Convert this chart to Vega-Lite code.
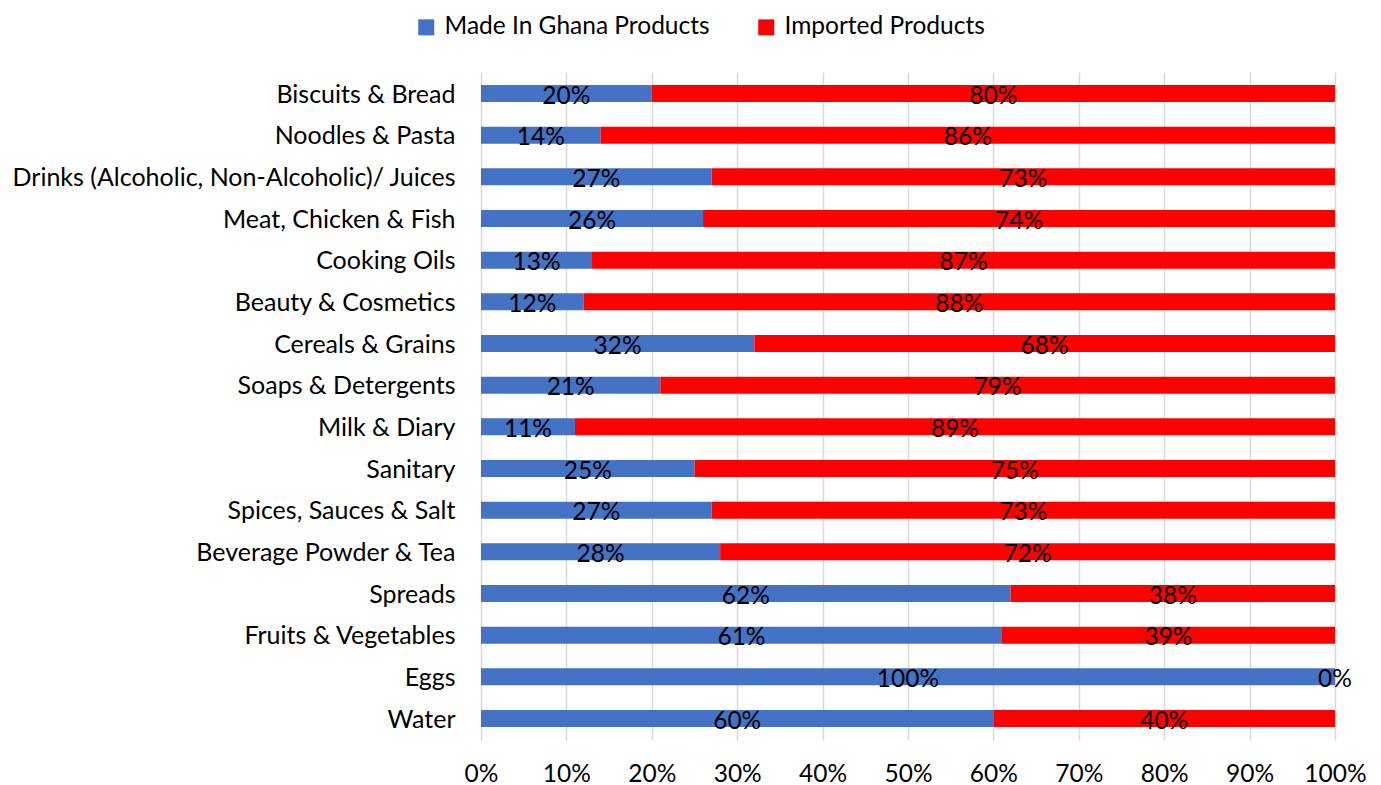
{
  "$schema": "https://vega.github.io/schema/vega-lite/v6.json",
  "autosize": "none",
  "width": 854,
  "height": 668,
  "padding": {"left": 481, "top": 72, "right": 46, "bottom": 45},
  "background": "white",
  "config": {"view": {"stroke": null}, "font": "Lato"},
  "data": {"values": [
    {"c": "Biscuits & Bread", "t": "Made In Ghana Products", "v": 20},
    {"c": "Biscuits & Bread", "t": "Imported Products", "v": 80},
    {"c": "Noodles & Pasta", "t": "Made In Ghana Products", "v": 14},
    {"c": "Noodles & Pasta", "t": "Imported Products", "v": 86},
    {"c": "Drinks (Alcoholic, Non-Alcoholic)/ Juices", "t": "Made In Ghana Products", "v": 27},
    {"c": "Drinks (Alcoholic, Non-Alcoholic)/ Juices", "t": "Imported Products", "v": 73},
    {"c": "Meat, Chicken & Fish", "t": "Made In Ghana Products", "v": 26},
    {"c": "Meat, Chicken & Fish", "t": "Imported Products", "v": 74},
    {"c": "Cooking Oils", "t": "Made In Ghana Products", "v": 13},
    {"c": "Cooking Oils", "t": "Imported Products", "v": 87},
    {"c": "Beauty & Cosmetics", "t": "Made In Ghana Products", "v": 12},
    {"c": "Beauty & Cosmetics", "t": "Imported Products", "v": 88},
    {"c": "Cereals & Grains", "t": "Made In Ghana Products", "v": 32},
    {"c": "Cereals & Grains", "t": "Imported Products", "v": 68},
    {"c": "Soaps & Detergents", "t": "Made In Ghana Products", "v": 21},
    {"c": "Soaps & Detergents", "t": "Imported Products", "v": 79},
    {"c": "Milk & Diary", "t": "Made In Ghana Products", "v": 11},
    {"c": "Milk & Diary", "t": "Imported Products", "v": 89},
    {"c": "Sanitary", "t": "Made In Ghana Products", "v": 25},
    {"c": "Sanitary", "t": "Imported Products", "v": 75},
    {"c": "Spices, Sauces & Salt", "t": "Made In Ghana Products", "v": 27},
    {"c": "Spices, Sauces & Salt", "t": "Imported Products", "v": 73},
    {"c": "Beverage Powder & Tea", "t": "Made In Ghana Products", "v": 28},
    {"c": "Beverage Powder & Tea", "t": "Imported Products", "v": 72},
    {"c": "Spreads", "t": "Made In Ghana Products", "v": 62},
    {"c": "Spreads", "t": "Imported Products", "v": 38},
    {"c": "Fruits & Vegetables", "t": "Made In Ghana Products", "v": 61},
    {"c": "Fruits & Vegetables", "t": "Imported Products", "v": 39},
    {"c": "Eggs", "t": "Made In Ghana Products", "v": 100},
    {"c": "Eggs", "t": "Imported Products", "v": 0},
    {"c": "Water", "t": "Made In Ghana Products", "v": 60},
    {"c": "Water", "t": "Imported Products", "v": 40}
  ]},
  "transform": [
    {"stack": "v", "groupby": ["c"], "sort": [{"field": "t", "order": "descending"}], "as": ["x0", "x1"]},
    {"calculate": "(datum.x0 + datum.x1) / 2", "as": "mid"},
    {"calculate": "datum.v + '%'", "as": "lab"}
  ],
  "encoding": {
    "y": {
      "field": "c", "type": "nominal", "sort": null, "title": null,
      "scale": {"paddingInner": 0.592, "paddingOuter": 0.312},
      "axis": {"domain": false, "ticks": false, "labelFontSize": 25, "labelColor": "#000000", "labelPadding": 26, "labelLimit": 600, "labelOffset": 1}
    }
  },
  "layer": [
    {
      "mark": {"type": "bar"},
      "encoding": {
        "x": {
          "field": "x0", "type": "quantitative", "title": null,
          "scale": {"domain": [0, 100], "nice": false},
          "axis": {"values": [0, 10, 20, 30, 40, 50, 60, 70, 80, 90, 100], "labelExpr": "datum.value + '%'", "domain": false, "ticks": false, "grid": true, "gridColor": "#d9d9d9", "gridWidth": 1.5, "labelFontSize": 24.5, "labelColor": "#000000", "labelPadding": 22, "labelFlush": false}
        },
        "x2": {"field": "x1"},
        "color": {
          "field": "t", "type": "nominal",
          "scale": {"domain": ["Made In Ghana Products", "Imported Products"], "range": ["#4472C4", "#FF0000"]},
          "legend": {"title": null, "orient": "none", "direction": "horizontal", "legendX": -67, "legendY": -57, "symbolType": "square", "symbolSize": 256, "symbolStrokeWidth": 0, "labelFontSize": 24.5, "labelColor": "#000000", "labelLimit": 500, "columnPadding": 44, "labelOffset": 6}
        }
      }
    },
    {
      "mark": {"type": "text", "fontSize": 24.5, "color": "#000000", "baseline": "middle", "dy": 3},
      "encoding": {
        "x": {"field": "mid", "type": "quantitative"},
        "text": {"field": "lab", "type": "nominal"}
      }
    }
  ]
}
